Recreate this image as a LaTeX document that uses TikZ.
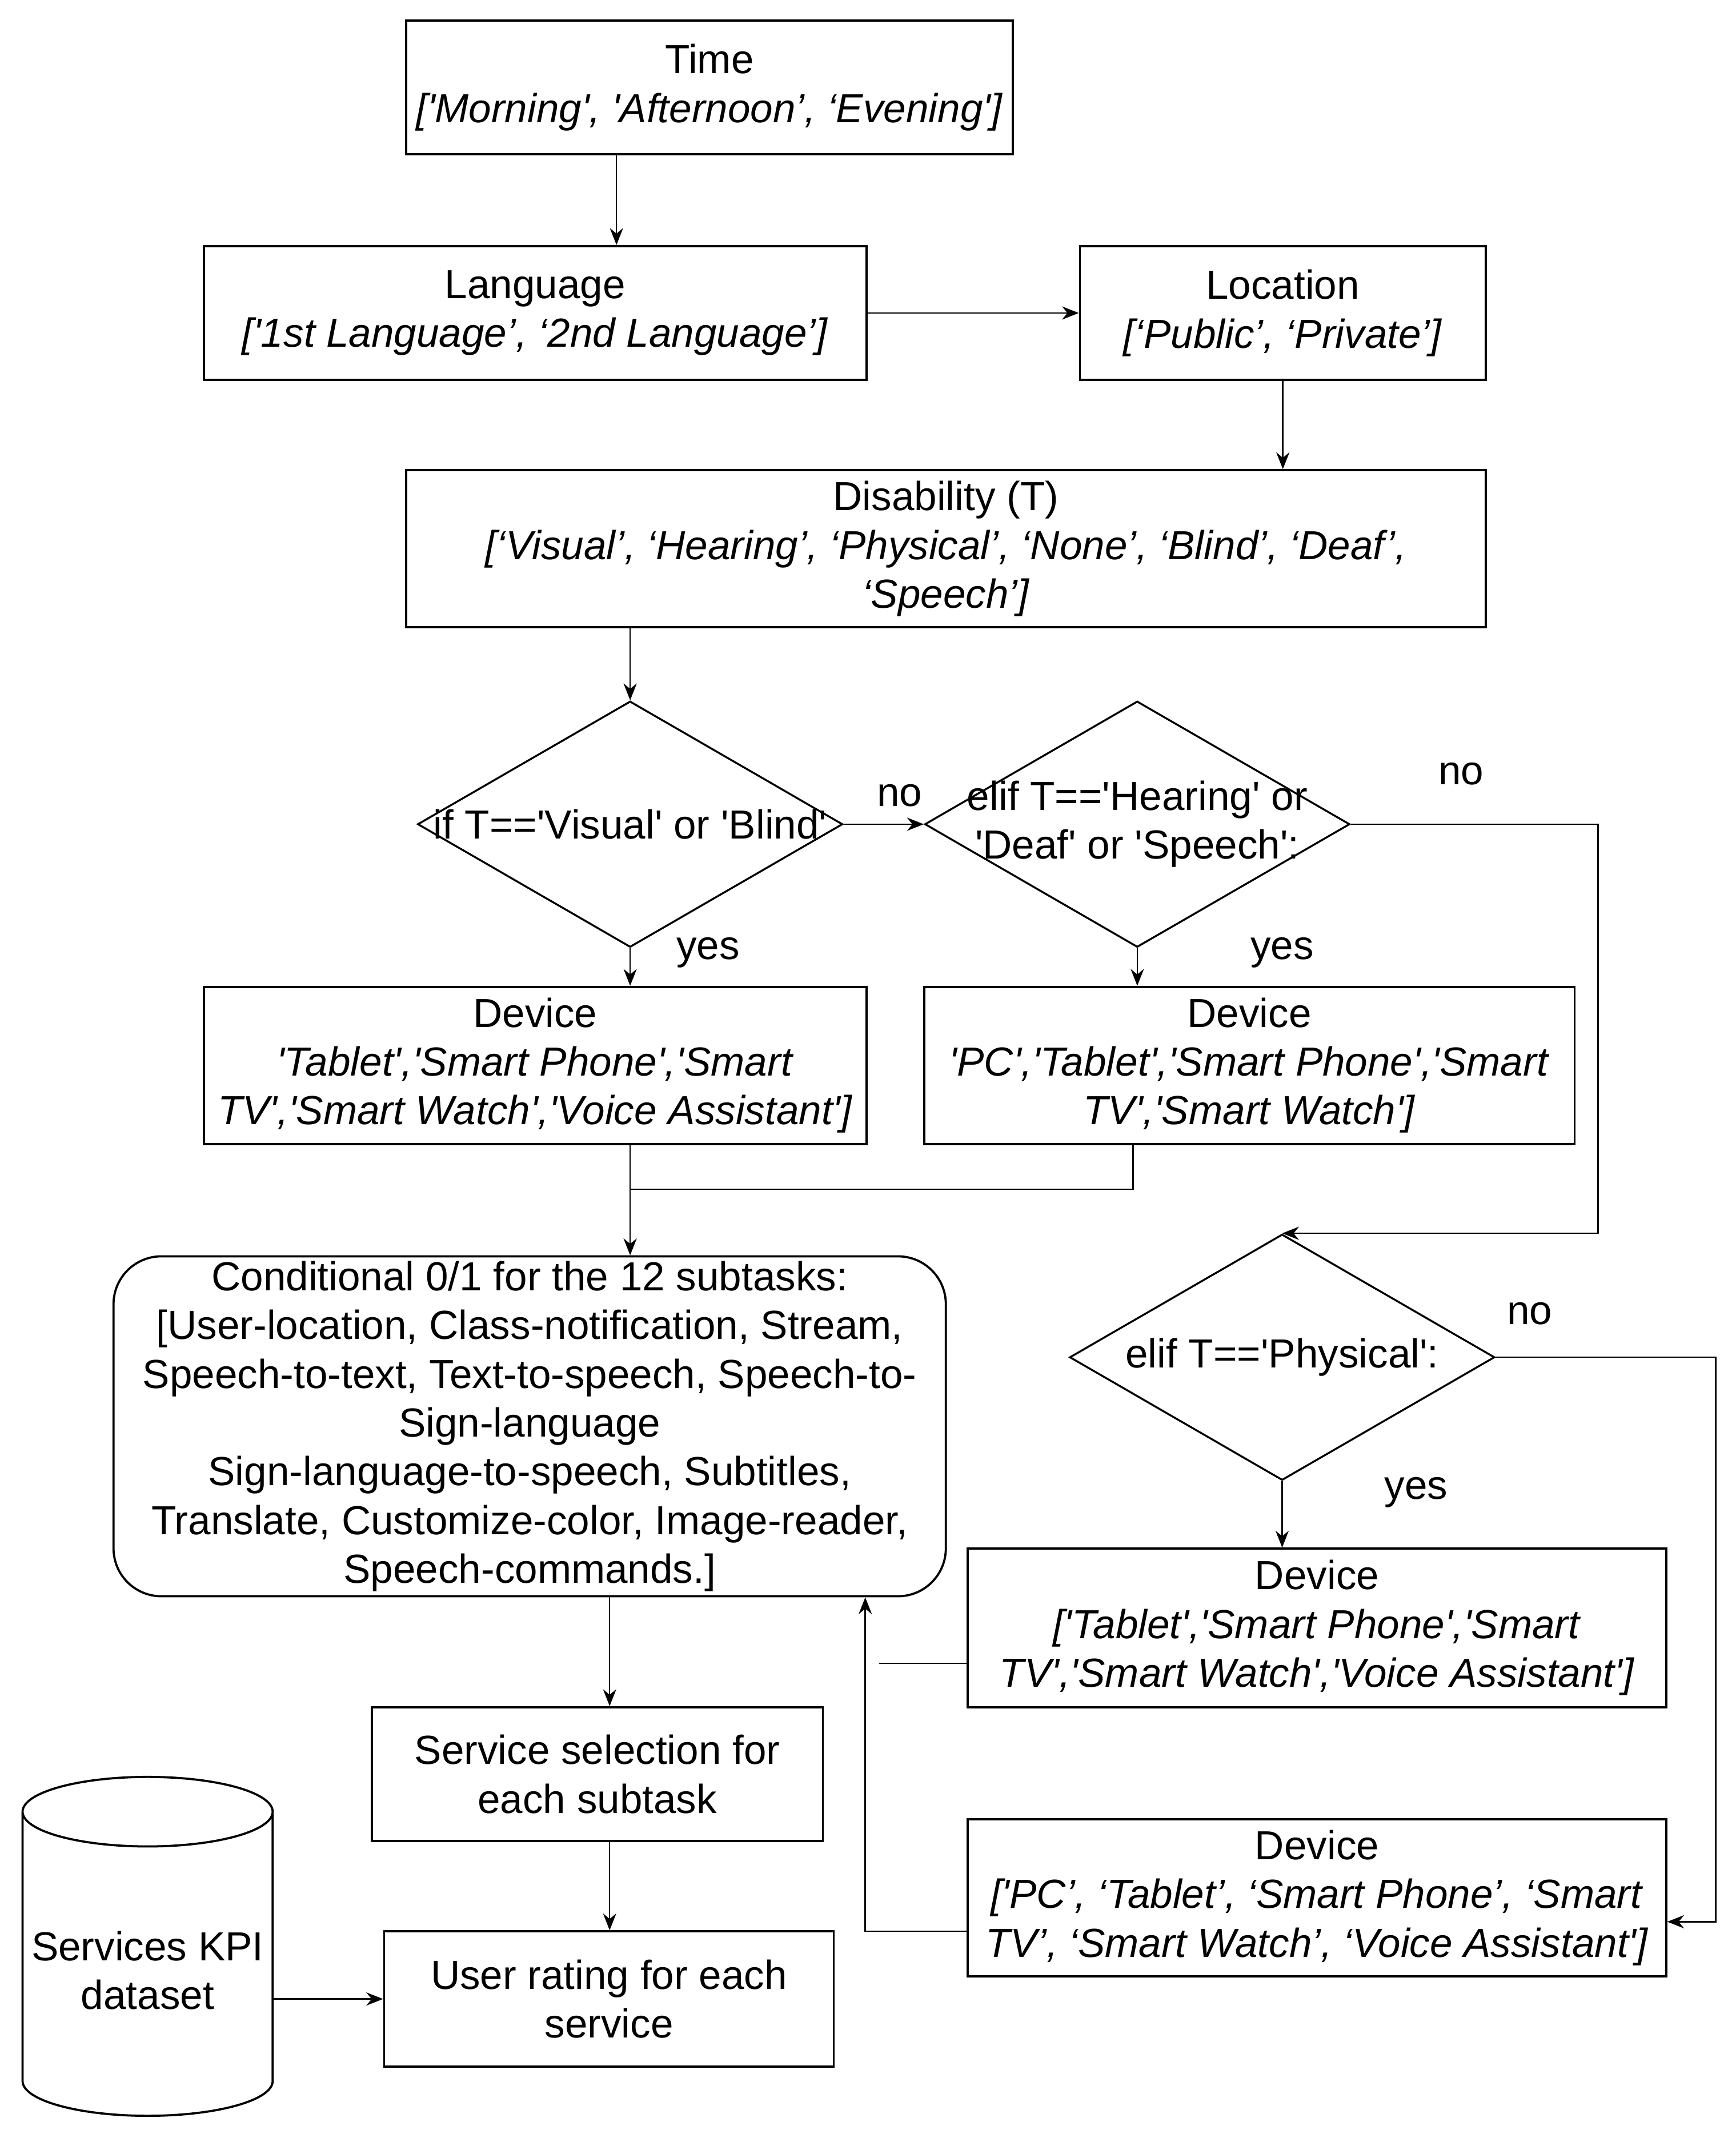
\documentclass[tikz,border=0pt]{standalone}
\usepackage{fontspec}
\setmainfont{Liberation Sans}
\usetikzlibrary{shapes,arrows.meta,positioning,calc}
\newcommand{\sq}{\textquotesingle}

\begin{document}
\begin{tikzpicture}[x=0.02cm,y=-0.02cm,
    every node/.style={font=\fontsize{16.9}{20.3}\selectfont, align=center},
    block/.style={draw, line width=0.9pt, rectangle, minimum height=1.96cm, inner sep=2pt},
    decision/.style={draw, line width=0.8pt, diamond, minimum width=6.22cm, minimum height=3.6cm, inner sep=0pt},
    arr/.style={-{Stealth[length=7pt,width=5.5pt]}, line width=0.6pt},
    line/.style={line width=0.6pt}]
    \useasboundingbox (0,0) rectangle (1270,1573);

    % Inputs
    \node[block, minimum width=8.88cm] (time) at (519,64) {Time\\ \textit{[\sq Morning\sq, \sq Afternoon’, ‘Evening\sq]}};
    \node[block, minimum width=9.7cm] (lang) at (391.5,229) {Language\\ \textit{[\sq 1st Language’, ‘2nd Language’]}};
    \node[block, minimum width=5.94cm] (loc) at (938.5,229) {Location\\ \textit{[‘Public’, ‘Private’]}};
    \node[block, minimum width=15.8cm, minimum height=2.3cm] (dis) at (692,401.5) {Disability (T)\\ \textit{[‘Visual’, ‘Hearing’, ‘Physical’, ‘None’, ‘Blind’, ‘Deaf’,}\\ \textit{‘Speech’]}};

    % Decisions (text laid over the diamond)
    \node[decision] (d1) at (461,603) {};
    \node (d1t) at (d1) {if T==\sq Visual\sq{} or \sq Blind\sq};
    \node[decision] (d2) at (832,603) {};
    \node (d2t) at (d2) {elif T==\sq Hearing\sq{} or\\ \sq Deaf\sq{} or \sq Speech\sq:};
    \node[decision] (d3) at (938,993) {};
    \node (d3t) at (d3) {elif T==\sq Physical\sq:};

    % Devices
    \node[block, minimum width=9.7cm, minimum height=2.3cm] (dev1) at (391.5,779.5) {Device\\ \textit{\sq Tablet\sq,\sq Smart Phone\sq,\sq Smart}\\ \textit{TV\sq,\sq Smart Watch\sq,\sq Voice Assistant\sq]}};
    \node[block, minimum width=9.52cm, minimum height=2.3cm] (dev2) at (914,779.5) {Device\\ \textit{\sq PC\sq,\sq Tablet\sq,\sq Smart Phone\sq,\sq Smart}\\ \textit{TV\sq,\sq Smart Watch\sq]}};
    \node[block, minimum width=10.22cm, minimum height=2.32cm] (dev3) at (963.5,1191) {Device\\ \textit{[\sq Tablet\sq,\sq Smart Phone\sq,\sq Smart}\\ \textit{TV\sq,\sq Smart Watch\sq,\sq Voice Assistant\sq]}};
    \node[block, minimum width=10.22cm, minimum height=2.3cm] (dev4) at (963.5,1388.5) {Device\\ \textit{[\sq PC’, ‘Tablet’, ‘Smart Phone’, ‘Smart}\\ \textit{TV’, ‘Smart Watch’, ‘Voice Assistant\sq]}};

    % Subtasks and services
    \node[block, rounded corners=0.7cm, minimum width=12.18cm, minimum height=4.94cm] (cond) at (387.5,1043.5) {Conditional 0/1 for the 12 subtasks:\\ {[}User-location, Class-notification, Stream,\\ Speech-to-text, Text-to-speech, Speech-to-\\ Sign-language\\ Sign-language-to-speech, Subtitles,\\ Translate, Customize-color, Image-reader,\\ Speech-commands.]};
    \node[block, minimum width=6.6cm] (serv) at (437,1298) {Service selection for\\ each subtask};
    \node[block, minimum width=6.58cm, minimum height=1.98cm] (rate) at (445.5,1462.5) {User rating for each\\ service};
    \node[draw, line width=0.9pt, cylinder, shape border rotate=90, aspect=0.28, anchor=shape center, minimum width=3.66cm, minimum height=4.96cm] (kpi) at (108,1424) {Services KPI\\ dataset};

    % Branch labels
    \node (no1) at (658,582) {no};
    \node (no2) at (1069,566) {no};
    \node (no3) at (1119,961) {no};
    \node (yes1) at (518,697) {yes};
    \node (yes2) at (938,697) {yes};
    \node (yes3) at (1036,1092) {yes};

    % Connectors
    \draw[arr] (451,0 |- time.south) -- (451,0 |- lang.north);
    \draw[arr] (lang.east) -- (loc.west);
    \draw[arr] (loc.south) -- (loc.south |- dis.north);
    \draw[arr] (d1.north |- dis.south) -- (d1.north);
    \draw[arr] (d1.east) -- (d2.west);
    \draw[arr] (d2.east) -- ++(181,0) |- (d3.north);
    \draw[arr] (d3.east) -- ++(161,0) |- ([yshift=-0.35cm]dev4.east);
    \draw[arr] (d1.south) -- (d1.south |- dev1.north);
    \draw[arr] (d2.south) -- (d2.south |- dev2.north);
    \draw[arr] (d3.south) -- (d3.south |- dev3.north);
    \coordinate (join) at (461,870);
    \draw[arr] (join |- dev1.south) -- (join |- cond.north);
    \draw[line] (829,0 |- dev2.south) |- (join);
    \draw[arr] (446,0 |- cond.south) -- (446,0 |- serv.north);
    \draw[arr] (446,0 |- serv.south) -- (446,0 |- rate.north);
    \coordinate (stub) at (643,1217);
    \draw[line] (stub -| dev3.west) -- (stub);
    \coordinate (back) at (633,1413);
    \draw[arr] (back -| dev4.west) -- (back) -- (back |- cond.south);
    \draw[arr] (kpi.east |- rate) -- (rate.west);

\end{tikzpicture}
\end{document}
